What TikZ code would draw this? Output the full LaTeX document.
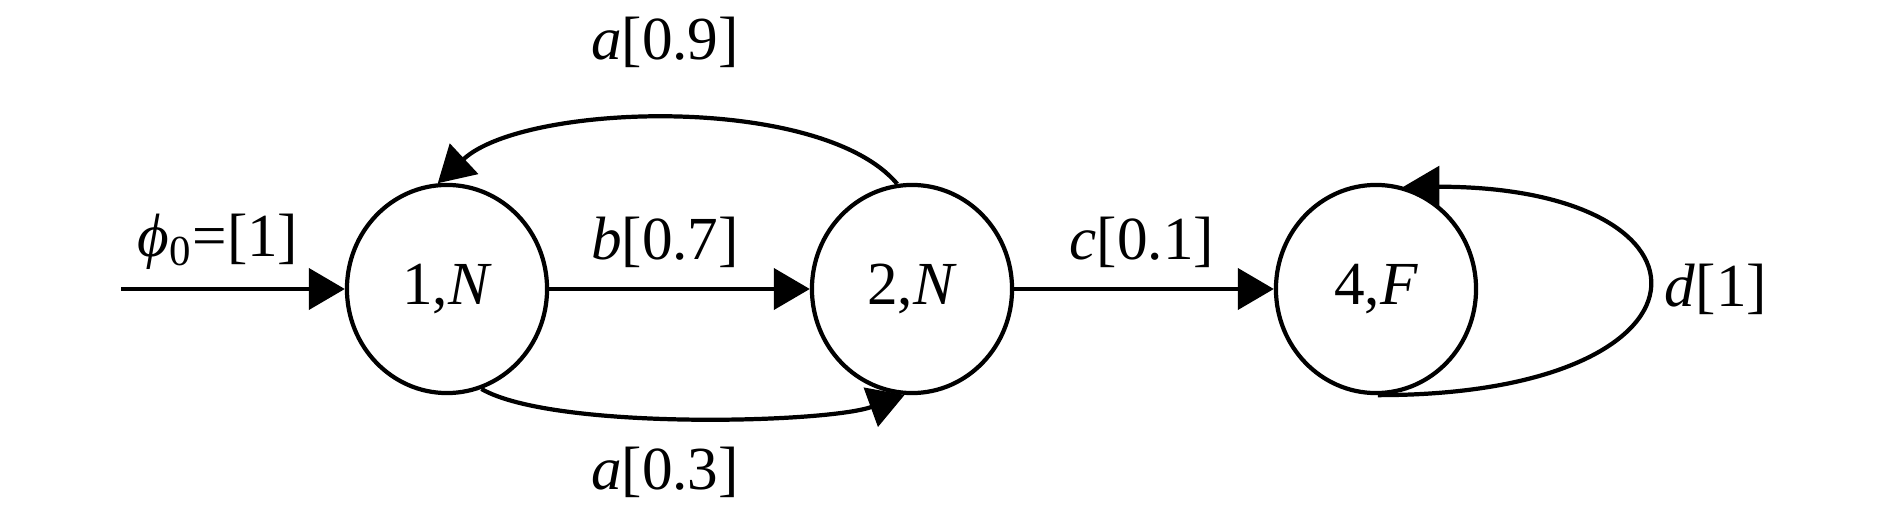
\documentclass[tikz,border=0pt]{standalone}
\usepackage{fontspec}
\setmainfont{Liberation Serif}
\usetikzlibrary{shapes, arrows.meta, positioning}

\tikzset{
    >={Triangle[length=0.36cm, width=0.41cm]},
    state/.style={ellipse, draw, line width=1.2pt, minimum width=2cm, minimum height=2.08cm, inner sep=0pt},
    trans/.style={->, line width=1.2pt},
    lab/.style={inner sep=0pt}
}

\begin{document}
\begin{tikzpicture}[x=0.01cm, y=0.01cm, font=\fontsize{17.4}{20}\selectfont]
    \useasboundingbox (0,0) rectangle (1890,512);

    % States
    \node[state] (q1) at (447,223) {1,\textit{N}};
    \node[state] (q2) at (912,223) {2,\textit{N}};
    \node[state] (q4) at (1376,223) {4,\textit{F}};
    \coordinate (init) at (121,223);

    % Transitions
    \draw[trans] (init) -- (q1);
    \draw[trans] (q1) -- (q2);
    \draw[trans] (q2) -- (q4);
    \draw[trans] (q2.98) to[out=130, in=43, looseness=0.66] (q1.95);
    \draw[trans] (q1.289) to[out=-30, in=200, looseness=0.5] (q2.266);
    \draw[trans] (q4.271) .. controls +(352,0) and +(330,0) .. (q4.75);

    % Labels
    \node[lab] (linit) at (218,270) {\textit{ϕ}\textsubscript{0}=[1]};
    \node[lab] (lb) at (665,270) {\textit{b}[0.7]};
    \node[lab] (lc) at (1142,270) {\textit{c}[0.1]};
    \node[lab] (la9) at (665,470) {\textit{a}[0.9]};
    \node[lab] (la3) at (665,40) {\textit{a}[0.3]};
    \node[lab] (ld) at (1716,223) {\textit{d}[1]};
\end{tikzpicture}
\end{document}
